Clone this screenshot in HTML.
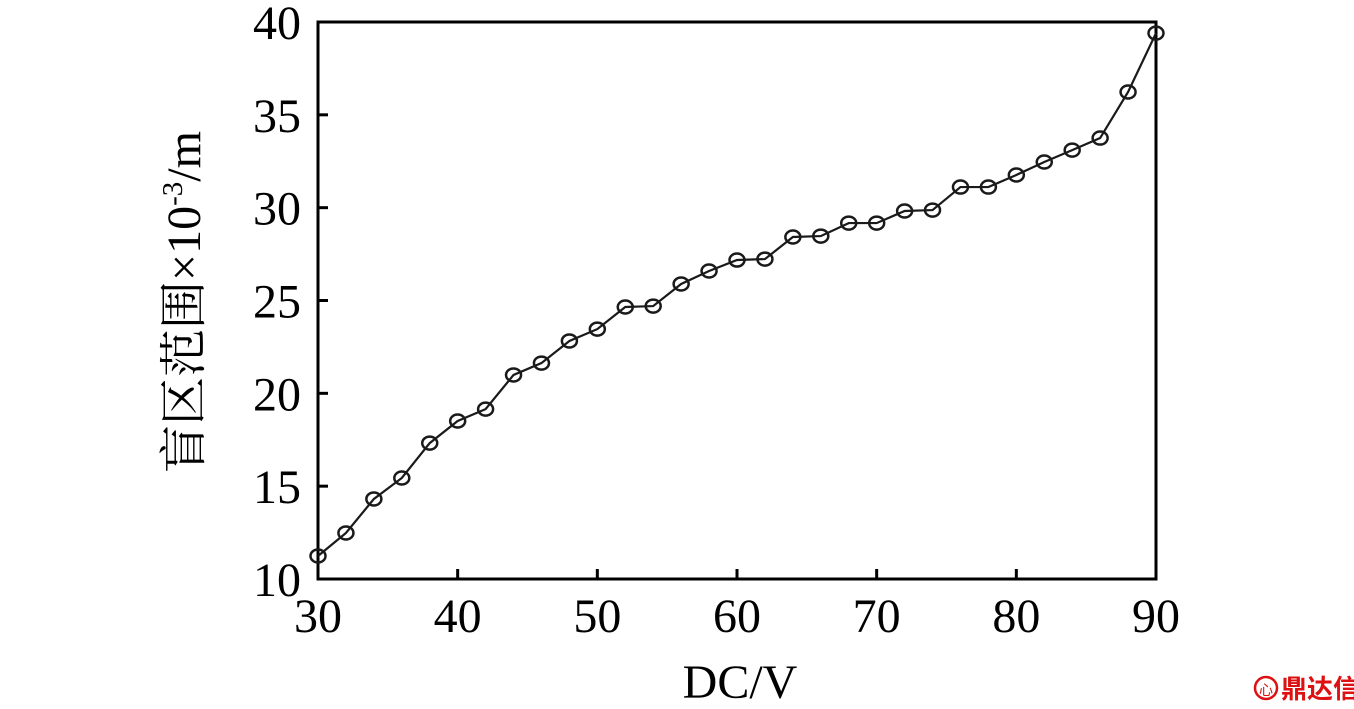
<!DOCTYPE html>
<html><head><meta charset="utf-8"><style>
html,body{margin:0;padding:0;background:#fff;}
svg{display:block;}
text{font-family:"Liberation Serif","Noto Serif CJK SC",serif;fill:#000;}
</style></head><body>
<svg id="chart" width="1354" height="709" viewBox="0 0 1354 709" xmlns="http://www.w3.org/2000/svg">
<rect x="318" y="22" width="838" height="557" fill="none" stroke="#000" stroke-width="3"/>
<g id="ticks"></g>
<g id="series"></g>
<text x="740" y="698" font-size="48" text-anchor="middle">DC/V</text>
<text transform="translate(200,302) rotate(-90)" font-size="48" text-anchor="middle">盲区范围×10<tspan font-size="29" dy="-18">-3</tspan><tspan dy="18">/m</tspan></text>
<g>
<circle cx="1266" cy="688" r="11" fill="none" stroke="#d11" stroke-width="2.5"/>
<text x="1266" y="695" font-size="14" text-anchor="middle" style="fill:#d11;font-family:'Noto Sans CJK SC',sans-serif">心</text>
<text x="1281" y="698" font-size="26" style="fill:#d11;font-weight:bold;font-family:'Noto Sans CJK SC',sans-serif">鼎达信</text>
</g>
</svg>
<script>
const xs = [30,32,34,36,38,40,42,44,46,48,50,52,54,56,58,60,62,64,66,68,70,72,74,76,78,80,82,84,86,88,90];
const ys = [11.24,12.48,14.31,15.44,17.32,18.51,19.15,20.99,21.63,22.82,23.46,24.65,24.70,25.89,26.59,27.18,27.23,28.42,28.47,29.17,29.17,29.82,29.87,31.11,31.11,31.76,32.46,33.10,33.75,36.23,39.40];
const xTicks = [30,40,50,60,70,80,90];
const yTicks = [10,15,20,25,30,35,40];
const NS="http://www.w3.org/2000/svg";
const X0=318,X1=1156,Y0=579,Y1=22;
function sx(v){return X0+(v-30)/(90-30)*(X1-X0);}
function sy(v){return Y0-(v-10)/(40-10)*(Y0-Y1);}
const tg=document.getElementById('ticks');
xTicks.forEach(t=>{
  const l=document.createElementNS(NS,'line');
  
  
  l.setAttribute('x1',sx(t));l.setAttribute('x2',sx(t));l.setAttribute('y1',Y0);l.setAttribute('y2',Y0-10);
  l.setAttribute('stroke','#000');l.setAttribute('stroke-width','3');tg.appendChild(l);
  const tx=document.createElementNS(NS,'text');
  
  
  tx.setAttribute('x',sx(t));tx.setAttribute('y',632);tx.setAttribute('font-size','48');tx.setAttribute('text-anchor','middle');
  tx.textContent=t;tg.appendChild(tx);
});
yTicks.forEach(t=>{
  const l=document.createElementNS(NS,'line');
  
  
  l.setAttribute('x1',X0);l.setAttribute('x2',X0+10);l.setAttribute('y1',sy(t));l.setAttribute('y2',sy(t));
  l.setAttribute('stroke','#000');l.setAttribute('stroke-width','3');tg.appendChild(l);
  const tx=document.createElementNS(NS,'text');
  
  
  tx.setAttribute('x',301);tx.setAttribute('y',sy(t)+17);tx.setAttribute('font-size','48');tx.setAttribute('text-anchor','end');
  tx.textContent=t;tg.appendChild(tx);
});
const sg=document.getElementById('series');
const p=document.createElementNS(NS,'polyline');


p.setAttribute('points',xs.map((x,i)=>sx(x)+','+sy(ys[i])).join(' '));
p.setAttribute('fill','none');p.setAttribute('stroke','#1a1a1a');p.setAttribute('stroke-width','2.2');
sg.appendChild(p);
xs.forEach((x,i)=>{
  const c=document.createElementNS(NS,'ellipse');
  
  
  c.setAttribute('cx',sx(x));c.setAttribute('cy',sy(ys[i]));c.setAttribute('rx','7.5');c.setAttribute('ry','6.5');
  c.setAttribute('fill','none');c.setAttribute('stroke','#1a1a1a');c.setAttribute('stroke-width','2.5');
  sg.appendChild(c);
});
</script>
</body></html>
